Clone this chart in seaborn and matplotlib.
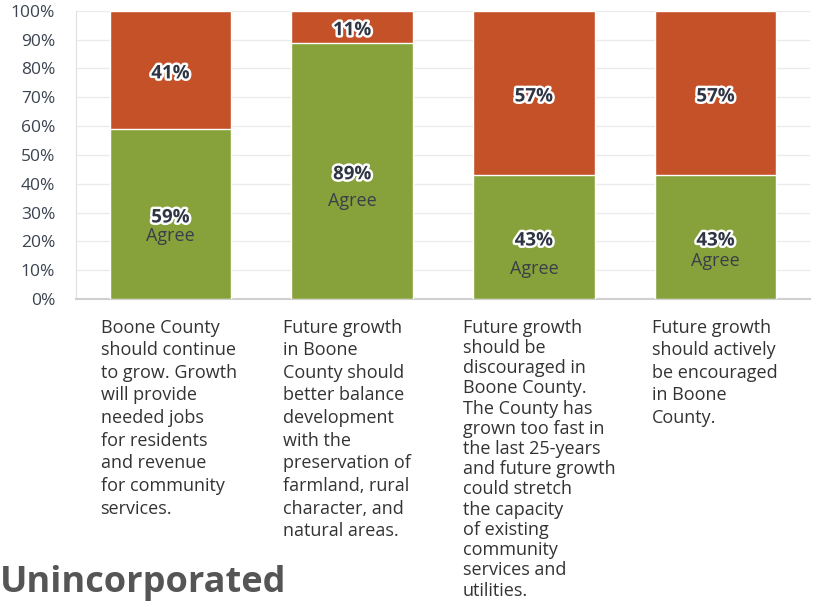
import pandas as pd
import matplotlib.pyplot as plt
import matplotlib.patheffects as pe
import seaborn as sns

# valores (%)
categorias = ['Continue to grow', 'Better balance', 'Discouraged', 'Encouraged']
agree = [59, 89, 43, 43]
disagree = [41, 11, 57, 57]
rotulos = [
    "Boone County\nshould continue\nto grow. Growth\nwill provide\nneeded jobs\nfor residents\nand revenue\nfor community\nservices.",
    "Future growth\nin Boone\nCounty should\nbetter balance\ndevelopment\nwith the\npreservation of\nfarmland, rural\ncharacter, and\nnatural areas.",
    "Future growth\nshould be\ndiscouraged in\nBoone County.\nThe County has\ngrown too fast in\nthe last 25-years\nand future growth\ncould stretch\nthe capacity\nof existing\ncommunity\nservices and\nutilities.",
    "Future growth\nshould actively\nbe encouraged\nin Boone\nCounty.",
]
titulo = 'Unincorporated'

# deslocamentos de posição (pontos / unidades do eixo x)
agree_offset = [-16, -22, -23, -17]
rotulo_dx = [-0.385, -0.382, -0.393, -0.349]
rotulo_espaco = [1.33, 1.33, 1.16, 1.33]

df = pd.DataFrame({'cat': categorias, 'agree': agree, 'disagree': disagree})
df['total'] = df['agree'] + df['disagree']

sns.set_style('white')
plt.rcParams['font.family'] = ['Open Sans', 'DejaVu Sans']

fig = plt.figure(figsize=(8.15, 6.04), dpi=100)
ax = fig.add_axes([0.0933, 0.505, 0.9007, 0.477])

verde = '#87a23b'
vermelho = '#c55128'

sns.barplot(data=df, x='cat', y='total', color=vermelho, width=0.67,
            saturation=1, ax=ax, zorder=3)
sns.barplot(data=df, x='cat', y='agree', color=verde, width=0.67,
            saturation=1, ax=ax, zorder=3)

ax.set_ylim(0, 100)
ax.set_xlim(-0.52, 3.52)
ax.set_yticks(range(0, 101, 10))
ax.set_yticklabels([f'{v}%' for v in range(0, 101, 10)], fontsize=12.5, color='#3b4351')
ax.tick_params(axis='y', length=0, pad=15)
ax.set_xticks([])
ax.set_xlabel('')
ax.set_ylabel('')
ax.grid(axis='y', color='#ebebeb', linewidth=1, zorder=0)
for s in ['top', 'right']:
    ax.spines[s].set_visible(False)
ax.spines['left'].set_color('#e0e0e0')
ax.spines['bottom'].set_color('#cfcfcf')
ax.spines['bottom'].set_linewidth(1.5)

contorno = [pe.withStroke(linewidth=3.5, foreground='white')]
for i in range(len(categorias)):
    a, d = agree[i], disagree[i]
    ax.annotate(f'{d}%', (i, a + d / 2), xytext=(0, -2.5), textcoords='offset points',
                ha='center', va='center', fontsize=13.5, fontweight='bold',
                color='#2f3542', path_effects=contorno, zorder=5)
    ax.annotate(f'{a}%', (i, a / 2), xytext=(0, -2.5), textcoords='offset points',
                ha='center', va='center', fontsize=13.5, fontweight='bold',
                color='#2f3542', path_effects=contorno, zorder=5)
    ax.annotate('Agree', (i, a / 2), xytext=(0, agree_offset[i]),
                textcoords='offset points', ha='center', va='center',
                fontsize=13, color='#3a3f4a', zorder=5)
    ax.text(i + rotulo_dx[i], -0.068, rotulos[i], transform=ax.get_xaxis_transform(),
            ha='left', va='top', fontsize=13, color='#333333',
            linespacing=rotulo_espaco[i])

fig.text(0.0, 0.035, titulo, fontsize=26, fontweight='bold', color='#555555',
         ha='left', va='center')

fig.savefig('out.png', dpi=100)
